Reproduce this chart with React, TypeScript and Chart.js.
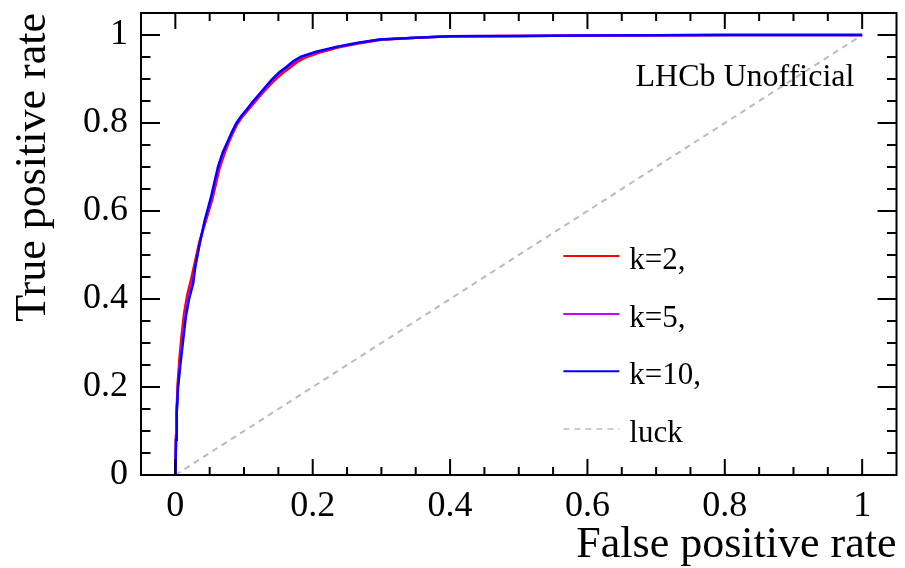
import { useEffect, useRef } from "react";
import { Chart, registerables } from "chart.js";

Chart.register(...registerables);

// ---- data -------------------------------------------------------------
const xTicks = [0, 0.2, 0.4, 0.6, 0.8, 1];
const yTicks = [0, 0.2, 0.4, 0.6, 0.8, 1];

const seriesNames = ["k=2,", "k=5,", "k=10,", "luck"];
const seriesColors = ["#ff0000", "#cc00ff", "#0000ff", "#bbbbbb"];

const fprK2 = [0, 0.001, 0.002, 0.0035, 0.006, 0.009, 0.013, 0.0175, 0.023, 0.028, 0.035, 0.0445, 0.054, 0.064, 0.071, 0.078, 0.084, 0.09, 0.097, 0.105, 0.115, 0.125, 0.143, 0.155, 0.166, 0.177, 0.188, 0.21, 0.238, 0.268, 0.3, 0.35, 0.4, 0.5, 0.6, 0.7, 0.8, 0.9, 1.0];
const tprK2 = [0, 0.09, 0.15, 0.21, 0.265, 0.315, 0.37, 0.41, 0.445, 0.48, 0.53, 0.578, 0.628, 0.695, 0.728, 0.757, 0.778, 0.797, 0.813, 0.828, 0.846, 0.865, 0.895, 0.912, 0.925, 0.938, 0.948, 0.96, 0.972, 0.981, 0.989, 0.994, 0.997, 0.998, 0.999, 0.9995, 0.9998, 0.9999, 1.0];

const fprK5 = [0, 0.001, 0.002, 0.0038, 0.007, 0.0105, 0.0145, 0.019, 0.025, 0.029, 0.0355, 0.0435, 0.053, 0.063, 0.07, 0.0775, 0.0835, 0.0895, 0.0965, 0.104, 0.114, 0.124, 0.141, 0.152, 0.164, 0.174, 0.185, 0.207, 0.236, 0.266, 0.298, 0.35, 0.4, 0.5, 0.6, 0.7, 0.8, 0.9, 1.0];
const tprK5 = [0, 0.085, 0.145, 0.205, 0.26, 0.31, 0.365, 0.405, 0.44, 0.476, 0.528, 0.579, 0.63, 0.698, 0.731, 0.759, 0.78, 0.799, 0.815, 0.829, 0.848, 0.866, 0.897, 0.914, 0.927, 0.94, 0.95, 0.961, 0.973, 0.982, 0.99, 0.994, 0.997, 0.998, 0.999, 0.9995, 0.9998, 0.9999, 1.0];

const fprK10 = [0, 0.001, 0.002, 0.004, 0.0076, 0.0114, 0.0153, 0.02, 0.026, 0.029, 0.0356, 0.043, 0.052, 0.062, 0.069, 0.077, 0.083, 0.089, 0.096, 0.1036, 0.113, 0.123, 0.14, 0.151, 0.162, 0.172, 0.183, 0.205, 0.234, 0.264, 0.297, 0.35, 0.4, 0.5, 0.6, 0.7, 0.8, 0.9, 1.0];
const tprK10 = [0, 0.08, 0.14, 0.2, 0.255, 0.307, 0.36, 0.4, 0.436, 0.473, 0.527, 0.58, 0.632, 0.7, 0.733, 0.761, 0.782, 0.8, 0.816, 0.83, 0.849, 0.867, 0.898, 0.915, 0.928, 0.941, 0.951, 0.962, 0.973, 0.982, 0.99, 0.994, 0.997, 0.998, 0.999, 0.9995, 0.9998, 0.9999, 1.0];

const luckFpr = [0, 1];
const luckTpr = [0, 1];

const watermark = "LHCb Unofficial";
const xTitle = "False positive rate";
const yTitle = "True positive rate";

// ---- helpers ----------------------------------------------------------
const FONT = "'Liberation Serif', 'Times New Roman', serif";
const toPoints = (xs: number[], ys: number[]) => xs.map((x, i) => ({ x, y: ys[i] }));
const fmt = (v: number) => String(Math.round(v * 10) / 10);

const rootPlugin = {
  id: "rootFrame",
  afterDraw(chart: any) {
    const { ctx, chartArea: a } = chart;
    const xs = chart.scales.x;
    const ys = chart.scales.y;
    ctx.save();
    ctx.strokeStyle = "#000";
    ctx.lineWidth = 2;
    ctx.strokeRect(a.left, a.top, a.right - a.left, a.bottom - a.top);
    ctx.beginPath();
    for (let i = 0; i <= 20; i++) {
      const v = i * 0.05;
      const major = i % 4 === 0;
      const px = xs.getPixelForValue(v);
      const lx = major ? 16 : 8;
      ctx.moveTo(px, a.bottom);
      ctx.lineTo(px, a.bottom - lx);
      ctx.moveTo(px, a.top);
      ctx.lineTo(px, a.top + lx);
      const py = ys.getPixelForValue(v);
      const ly = major ? 19 : 9.5;
      ctx.moveTo(a.left, py);
      ctx.lineTo(a.left + ly, py);
      ctx.moveTo(a.right, py);
      ctx.lineTo(a.right - ly, py);
    }
    ctx.stroke();

    // watermark
    ctx.fillStyle = "#000";
    ctx.font = `32px ${FONT}`;
    ctx.textAlign = "left";
    ctx.textBaseline = "alphabetic";
    ctx.fillText(watermark, xs.getPixelForValue(0.67), ys.getPixelForValue(0.884));

    // legend
    const rows = [0.4977, 0.366, 0.236, 0.1045];
    const x0 = xs.getPixelForValue(0.565);
    const x1 = xs.getPixelForValue(0.6465);
    const xt = xs.getPixelForValue(0.661);
    ctx.font = `31px ${FONT}`;
    chart.data.datasets.forEach((ds: any, i: number) => {
      const py = ys.getPixelForValue(rows[i]);
      ctx.beginPath();
      ctx.strokeStyle = ds.borderColor;
      ctx.lineWidth = ds.borderDash ? 1.5 : 2;
      ctx.setLineDash(ds.borderDash || []);
      ctx.moveTo(x0, py);
      ctx.lineTo(x1, py);
      ctx.stroke();
      ctx.setLineDash([]);
      ctx.fillStyle = "#000";
      ctx.fillText(ds.label, xt, py + 13);
    });
    ctx.restore();
  },
};

export default function App() {
  const ref = useRef<HTMLCanvasElement | null>(null);

  useEffect(() => {
    document.body.style.margin = "0";
    const canvas = ref.current!;
    const chart = new Chart(canvas, {
      type: "scatter",
      data: {
        datasets: [
          { label: seriesNames[0], data: toPoints(fprK2, tprK2), borderColor: seriesColors[0], order: 2 },
          { label: seriesNames[1], data: toPoints(fprK5, tprK5), borderColor: seriesColors[1], order: 1 },
          { label: seriesNames[2], data: toPoints(fprK10, tprK10), borderColor: seriesColors[2], order: 0 },
          { label: seriesNames[3], data: toPoints(luckFpr, luckTpr), borderColor: seriesColors[3], borderDash: [6, 5], order: 3 },
        ].map((d: any) => ({
          ...d,
          showLine: true,
          fill: false,
          tension: 0,
          pointRadius: 0,
          pointHoverRadius: 0,
          borderWidth: d.borderDash ? 2 : 2.5,
        })),
      },
      options: {
        responsive: false,
        animation: false,
        devicePixelRatio: 1,
        layout: { padding: { top: 13, right: 8.5, left: 0, bottom: 0 } },
        plugins: { legend: { display: false }, tooltip: { enabled: false } },
        scales: {
          x: {
            type: "linear",
            min: -0.05,
            max: 1.05,
            afterBuildTicks: (axis: any) => {
              axis.ticks = xTicks.map((v) => ({ value: v }));
            },
            afterFit: (scale: any) => {
              scale.height = 93;
              scale.paddingLeft = 0;
              scale.paddingRight = 0;
            },
            grid: { display: false, drawTicks: false },
            border: { display: false },
            ticks: {
              color: "#000",
              padding: 10,
              maxRotation: 0,
              autoSkip: false,
              font: { family: FONT, size: 36 },
              callback: (v: any) => fmt(Number(v)),
            },
            title: {
              display: true,
              text: xTitle,
              align: "end",
              color: "#000",
              font: { family: FONT, size: 44, lineHeight: 1 },
              padding: { top: 0, bottom: 1 },
            },
          },
          y: {
            type: "linear",
            min: 0,
            max: 1.05,
            afterBuildTicks: (axis: any) => {
              axis.ticks = yTicks.map((v) => ({ value: v }));
            },
            afterFit: (scale: any) => {
              scale.width = 141;
              scale.paddingTop = 0;
              scale.paddingBottom = 0;
            },
            grid: { display: false, drawTicks: false },
            border: { display: false },
            ticks: {
              color: "#000",
              padding: 13,
              autoSkip: false,
              font: { family: FONT, size: 36 },
              callback: (v: any) => fmt(Number(v)),
            },
            title: {
              display: true,
              text: yTitle,
              align: "end",
              color: "#000",
              font: { family: FONT, size: 44, lineHeight: 1 },
              padding: { top: 11, bottom: 0 },
            },
          },
        },
      },
      plugins: [rootPlugin],
    } as any);
    return () => chart.destroy();
  }, []);

  return (
    <div style={{ width: 905, height: 568, background: "#fff" }}>
      <canvas ref={ref} width={905} height={568} style={{ display: "block" }} />
    </div>
  );
}
